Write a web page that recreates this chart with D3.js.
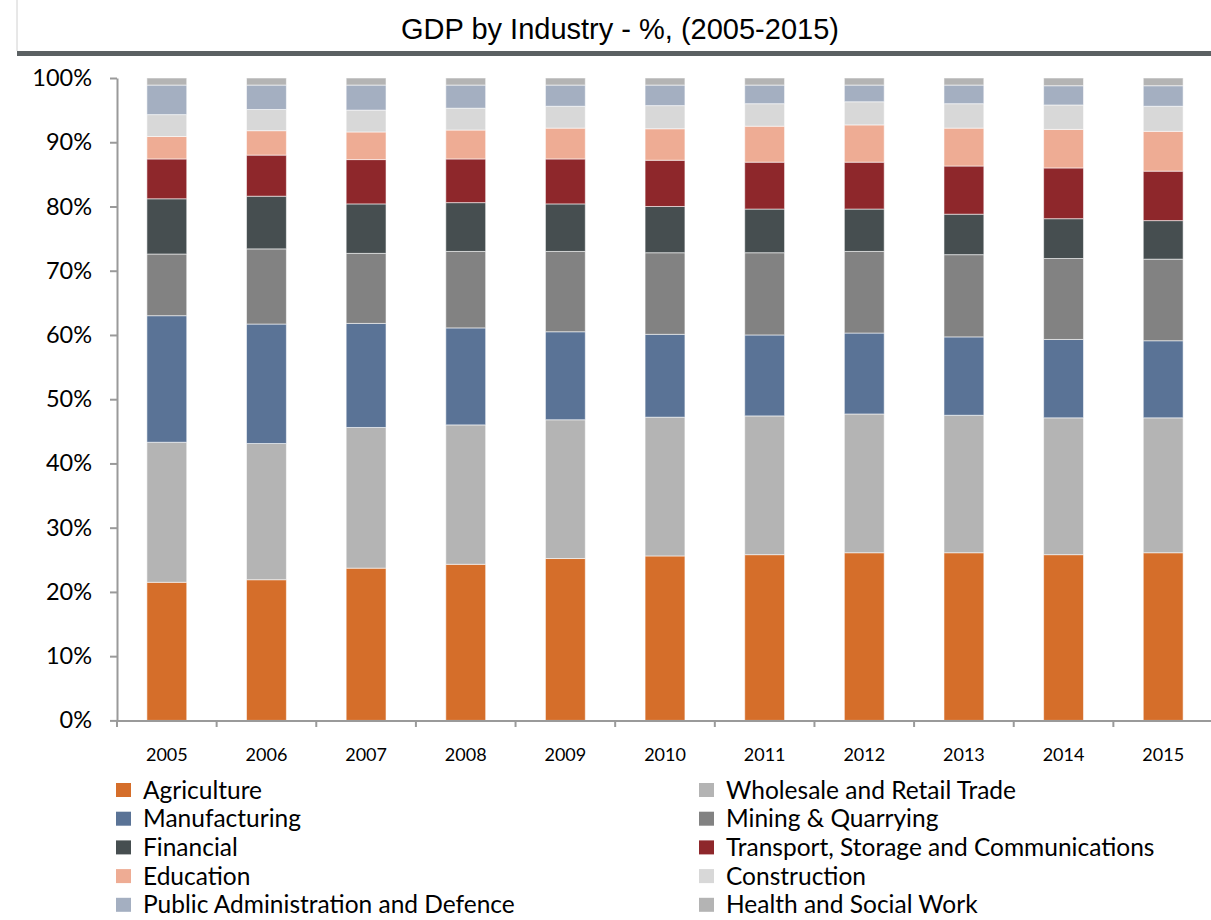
<!DOCTYPE html>
<html><head><meta charset="utf-8">
<script src="https://cdn.jsdelivr.net/npm/d3@7"></script>
<style>
body{margin:0;background:#fff;}
svg{display:block;}
</style></head>
<body>
<svg id="chart" width="1211" height="920"></svg>
<script>
const years = ["2005","2006","2007","2008","2009","2010","2011","2012","2013","2014","2015"];
const industries = ["Agriculture","Wholesale and Retail Trade","Manufacturing","Mining & Quarrying","Financial","Transport, Storage and Communications","Education","Construction","Public Administration and Defence","Health and Social Work"];
const agriculture   = [21.5,21.9,23.7,24.3,25.2,25.6,25.8,26.1,26.1,25.8,26.1];
const wholesale     = [21.8,21.2,21.9,21.7,21.6,21.6,21.6,21.6,21.4,21.3,21.0];
const manufacturing = [19.7,18.6,16.2,15.1,13.7,12.9,12.6,12.6,12.2,12.2,12.0];
const mining        = [9.6,11.7,10.9,11.9,12.5,12.7,12.8,12.7,12.8,12.6,12.7];
const financial     = [8.6,8.2,7.7,7.6,7.4,7.2,6.8,6.6,6.3,6.2,6.0];
const transport     = [6.2,6.4,6.9,6.8,7.0,7.2,7.3,7.3,7.5,7.9,7.7];
const education     = [3.5,3.8,4.3,4.5,4.8,4.9,5.6,5.8,5.9,6.0,6.2];
const construction  = [3.4,3.3,3.4,3.4,3.4,3.6,3.5,3.6,3.8,3.8,3.9];
const publicAdmin   = [4.6,3.8,3.9,3.6,3.3,3.2,2.9,2.6,2.9,3.0,3.2];
const health        = [1.1,1.1,1.1,1.1,1.1,1.1,1.1,1.1,1.1,1.2,1.2];
const yTicks = [0,10,20,30,40,50,60,70,80,90,100];
const colors = ["#d56e2a","#b4b4b4","#5a7396","#828282","#464e50","#8e272b","#eeac94","#d8d8d8","#a4afc1","#b4b4b4"];

const seriesArrays = [agriculture,wholesale,manufacturing,mining,financial,transport,education,construction,publicAdmin,health];
const table = years.map((y,i)=>{const o={year:y}; industries.forEach((k,j)=>o[k]=seriesArrays[j][i]); return o;});
const stack = d3.stack().keys(industries)(table);

const svg = d3.select("#chart");
const x = d3.scaleBand().domain(years).range([117,1213]).paddingInner(0.6).paddingOuter(0.3);
const y = d3.scaleLinear().domain([0,100]).range([720.4,78]);

// title
svg.append("line").attr("x1",17).attr("x2",17).attr("y1",0).attr("y2",51).attr("stroke","#d0d0d0").attr("stroke-width",1);
svg.append("rect").attr("x",17).attr("y",51).attr("width",1194).attr("height",5).attr("fill","#5b6163");
svg.append("text").attr("x",620).attr("y",39).attr("text-anchor","middle")
  .style("font-family","'Liberation Sans',Arial,sans-serif").style("font-size","29px").attr("fill","#000")
  .text("GDP by Industry - %, (2005-2015)");

// bars
svg.append("g").selectAll("g").data(stack).join("g").attr("fill",(d,i)=>colors[i])
  .selectAll("rect").data(d=>d).join("rect")
  .attr("x",d=>x(d.data.year)).attr("width",x.bandwidth())
  .attr("y",d=>y(d[1])).attr("height",d=>y(d[0])-y(d[1]))
  .attr("stroke","#ffffff").attr("stroke-opacity",0.55).attr("stroke-width",1);

// y axis
const yAxis = svg.append("g").attr("transform","translate(117,0)")
  .call(d3.axisLeft(y).tickValues(yTicks).tickFormat(d=>d+"%").tickSize(7).tickSizeOuter(0).tickPadding(18));
yAxis.selectAll("path,line").attr("stroke","#9a9a9a").attr("stroke-width",2);
yAxis.selectAll("text").style("font-family","Lato,sans-serif").style("font-size","23.5px").attr("fill","#000");

// x axis
const xAxis = svg.append("g").attr("transform","translate(0,720.4)")
  .call(d3.axisBottom(x).tickSize(0).tickPadding(28));
xAxis.select(".domain").attr("stroke","#9a9a9a").attr("stroke-width",2);
xAxis.selectAll("text").style("font-family","Lato,sans-serif").style("font-size","18px").attr("fill","#000");
// tick marks between categories
const bounds = years.map(d=>x(d)-x.step()*x.paddingOuter()).concat([x.range()[1]]);
svg.append("g").selectAll("line").data(bounds).join("line")
  .attr("x1",d=>d).attr("x2",d=>d).attr("y1",720.4).attr("y2",727)
  .attr("stroke","#9a9a9a").attr("stroke-width",2);

// legend
const legend = svg.append("g");
const item = legend.selectAll("g").data(industries).join("g")
  .attr("transform",(d,i)=>`translate(${i%2===0?116:699},${783+Math.floor(i/2)*28.7})`);
item.append("rect").attr("width",15).attr("height",14).attr("fill",(d,i)=>colors[i]);
item.append("text").attr("x",27).attr("y",15.5).text(d=>d)
  .style("font-family","Lato,sans-serif").style("font-size","24.5px").attr("fill","#000");
</script>
</body></html>
